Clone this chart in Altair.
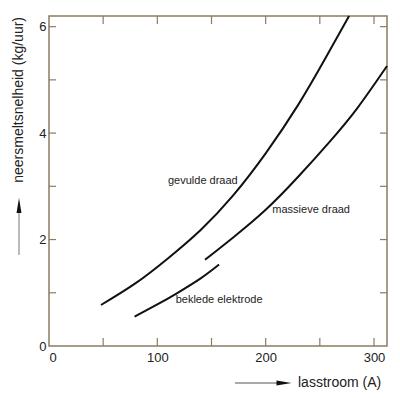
import altair as alt
import pandas as pd

# --- data ---
gevulde_x = [48, 80, 110, 140, 170, 200, 230, 255, 277]
gevulde_y = [0.77, 1.18, 1.65, 2.18, 2.83, 3.62, 4.53, 5.40, 6.20]

massieve_x = [144, 170, 200, 230, 260, 285, 312]
massieve_y = [1.62, 2.04, 2.56, 3.18, 3.86, 4.48, 5.26]

beklede_x = [79, 100, 118, 140, 157]
beklede_y = [0.55, 0.78, 0.99, 1.27, 1.53]

label_text = ["gevulde draad", "massieve draad", "beklede elektrode"]
label_x = [142, 242, 157]
label_y = [3.1, 2.55, 0.86]

x_tick_values = [50, 100, 150, 200, 250, 300]
y_tick_values = [1, 2, 3, 4, 5, 6]
x_label_values = [0, 100, 200, 300]
y_label_values = [0, 2, 4, 6]

W, H = 338, 330
FRAME = "#8c7c62"
FONT = "Liberation Sans"

rows = []
for name, xs, ys in [("gevulde", gevulde_x, gevulde_y),
                     ("massieve", massieve_x, massieve_y),
                     ("beklede", beklede_x, beklede_y)]:
    for a, b in zip(xs, ys):
        rows.append({"serie": name, "x": a, "y": b})
curves = pd.DataFrame(rows)
labels = pd.DataFrame({"t": label_text, "x": label_x, "y": label_y})
xt = pd.DataFrame({"v": x_tick_values})
yt = pd.DataFrame({"v": y_tick_values})

xscale = alt.Scale(domain=[0, 312], nice=False, zero=False)
yscale = alt.Scale(domain=[0, 6.2], nice=False, zero=False)

lines = alt.Chart(curves).mark_line(color="#111", strokeWidth=2, interpolate="natural").encode(
    x=alt.X("x:Q", scale=xscale,
            axis=alt.Axis(values=x_label_values, title=None, grid=False, domain=False,
                          tickSize=0, labelPadding=5, labelFontSize=13, labelFont=FONT,
                          labelColor="#222", format="d")),
    y=alt.Y("y:Q", scale=yscale,
            axis=alt.Axis(values=y_label_values, title=None, grid=False, domain=False,
                          tickSize=0, labelPadding=3, labelFontSize=13, labelFont=FONT,
                          labelColor="#222", format="d")),
    detail="serie:N",
)

texts = alt.Chart(labels).mark_text(font=FONT, fontSize=11, color="#222",
                                    align="center", baseline="middle").encode(
    x=alt.X("x:Q", scale=xscale), y=alt.Y("y:Q", scale=yscale), text="t:N")

tb = alt.Chart(xt).mark_rule(color=FRAME, strokeWidth=1.2).encode(
    x=alt.X("v:Q", scale=xscale), y=alt.value(H), y2=alt.value(H - 8))
tt = alt.Chart(xt).mark_rule(color=FRAME, strokeWidth=1.2).encode(
    x=alt.X("v:Q", scale=xscale), y=alt.value(0), y2=alt.value(8))
tl = alt.Chart(yt).mark_rule(color=FRAME, strokeWidth=1.2).encode(
    y=alt.Y("v:Q", scale=yscale), x=alt.value(0), x2=alt.value(7))
tr = alt.Chart(yt).mark_rule(color=FRAME, strokeWidth=1.2).encode(
    y=alt.Y("v:Q", scale=yscale), x=alt.value(W), x2=alt.value(W - 7))

ytitle = alt.Chart(pd.DataFrame({"t": ["neersmeltsnelheid (kg/uur)"]})).mark_text(
    font=FONT, fontSize=14, color="#222", angle=270, align="right", baseline="middle").encode(
    x=alt.value(-30), y=alt.value(1), text="t:N")
yarrow_line = alt.Chart(pd.DataFrame({"a": [0]})).mark_rule(color="#777", strokeWidth=1).encode(
    x=alt.value(-30), y=alt.value(239), y2=alt.value(196))
yarrow_head = alt.Chart(pd.DataFrame({"a": [0]})).mark_point(
    shape="M0,-1L0.33,1L-0.33,1Z", filled=True, color="#111", opacity=1, size=225).encode(
    x=alt.value(-30), y=alt.value(189.5))

xtitle = alt.Chart(pd.DataFrame({"t": ["lasstroom (A)"]})).mark_text(
    font=FONT, fontSize=14, color="#222", align="left", baseline="middle").encode(
    x=alt.value(249), y=alt.value(367), text="t:N")
xarrow_line = alt.Chart(pd.DataFrame({"a": [0]})).mark_rule(color="#555", strokeWidth=1).encode(
    x=alt.value(186), x2=alt.value(230), y=alt.value(367))
xarrow_head = alt.Chart(pd.DataFrame({"a": [0]})).mark_point(
    shape="M1,0L-1,0.33L-1,-0.33Z", filled=True, color="#111", opacity=1, size=225).encode(
    x=alt.value(235), y=alt.value(367))

chart = alt.layer(lines, texts, tb, tt, tl, tr, ytitle, yarrow_line, yarrow_head,
                  xtitle, xarrow_line, xarrow_head).properties(
    width=W, height=H, autosize="none",
    padding={"left": 41, "top": 8, "right": 5, "bottom": 44},
    background="white",
).configure_view(stroke=FRAME, strokeWidth=1.5)

chart.save("out.html", embed_options={"renderer": "svg", "actions": False})
